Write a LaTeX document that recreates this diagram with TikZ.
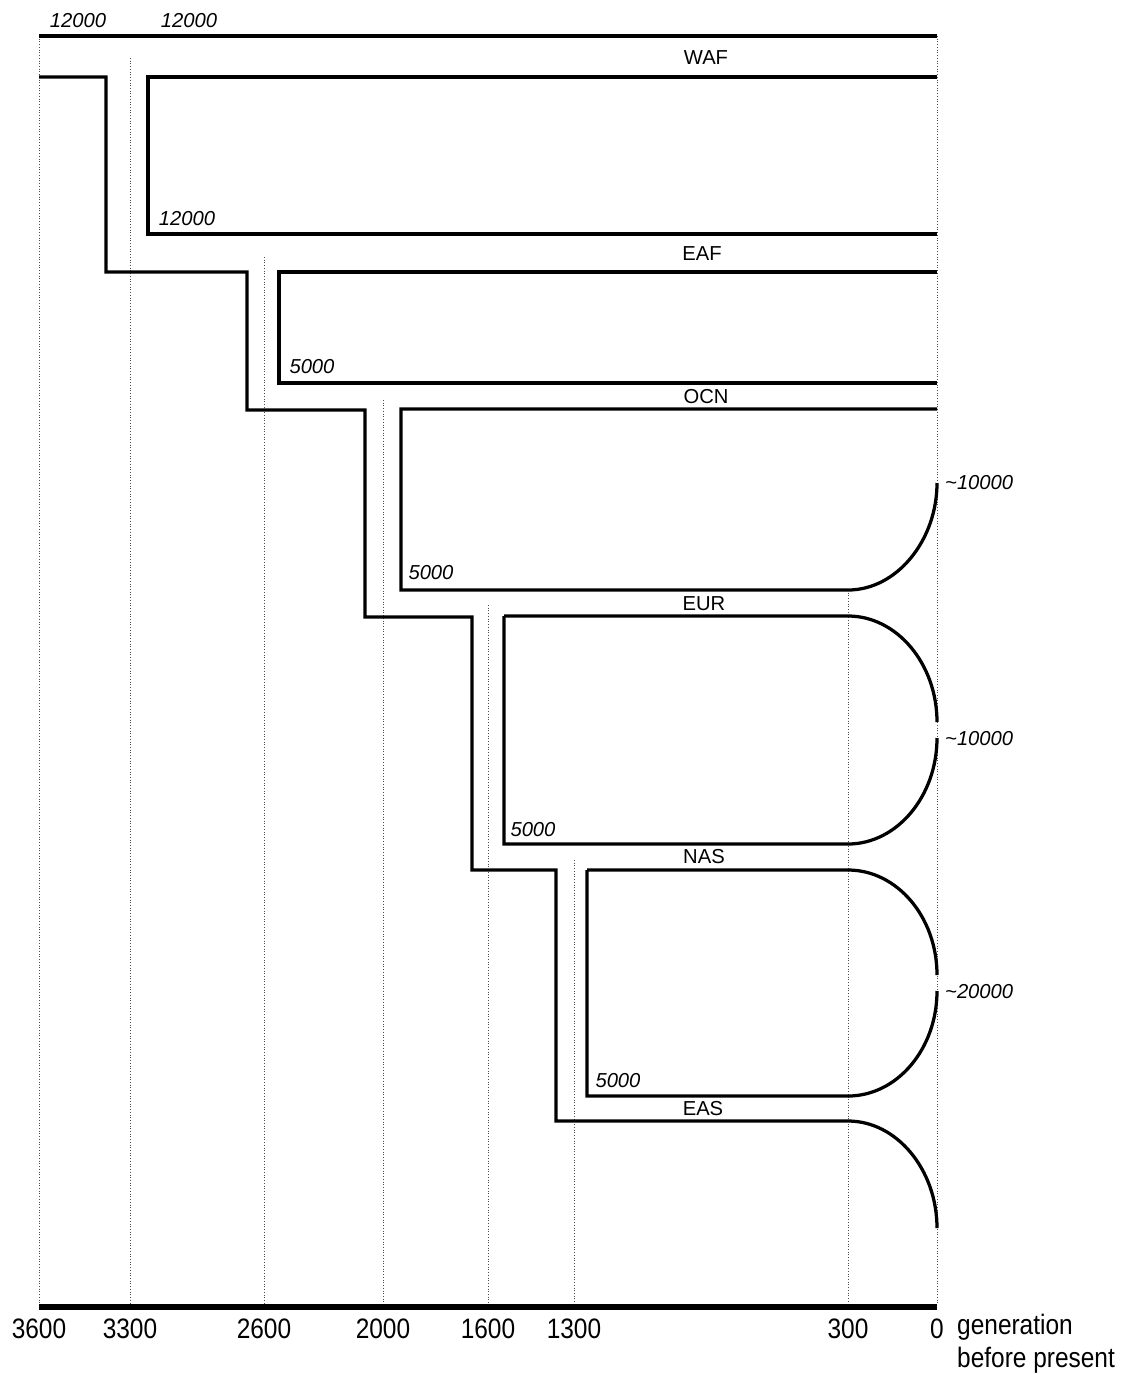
\documentclass[tikz,border=0pt]{standalone}
\usepackage{fontspec}
\setmainfont{Liberation Sans}
\newfontfamily\axisfont[FakeStretch=0.87]{Liberation Sans}
\begin{document}
\begin{tikzpicture}[x=0.02cm,y=-0.02cm]
\tikzset{
  popline/.style={line width=1.85pt,line join=miter},
  timeline/.style={densely dotted,gray!60!black,line width=0.55pt},
  popname/.style={font=\fontsize{11.5}{13}\selectfont},
  popsize/.style={font=\fontsize{11.5}{13}\selectfont\itshape},
  ticklabel/.style={font=\axisfont\fontsize{16}{19}\selectfont}
}
\useasboundingbox (0,0) rectangle (1123,1374);
\foreach \x/\y in {39/36,130/58,264/257,383/400,488/605,574/860,848/590,937/36}
  \draw[timeline] (\x,\y) -- (\x,1305);
\coordinate (T0) at (937,1307);
\coordinate (T3600) at (39,1307);
\draw[line width=3pt] (T3600) -- (T0);
\foreach \x/\t in {39/3600,130/3300,264/2600,383/2000,488/1600,574/1300,848/300,937/0}
  \node[ticklabel] (tick\t) at (\x,1329) {\t};
\node[ticklabel,anchor=west,align=left] (gen) at (951,1344) {generation\\before present};
\draw[popline] (39,36) -- (937,36);
\node[popsize] (anc1) at (78,21) {12000};
\node[popsize] (anc2) at (189,21) {12000};
\draw[popline] (39,77) -- (106,77) -- (106,272) -- (247,272) -- (247,410) -- (365,410)
  -- (365,617) -- (472,617) -- (472,870) -- (556,870) -- (556,1121) -- (848,1121)
  .. controls (897,1121) and (937,1170) .. (937,1228);
\draw[popline] (937,77) -- (148,77) -- (148,234) -- (937,234);
\node[popname] (waf) at (706,58) {WAF};
\node[popsize] (wafN) at (187,219) {12000};
\draw[popline] (937,272) -- (279,272) -- (279,383) -- (937,383);
\node[popname] (eaf) at (702,254) {EAF};
\node[popsize] (eafN) at (312,367) {5000};
\draw[popline] (937,409) -- (401,409) -- (401,590) -- (848,590)
  .. controls (897,590) and (937,540) .. (937,483);
\node[popname] (ocn) at (706,397) {OCN};
\node[popsize] (ocnN) at (431,573) {5000};
\node[popsize,anchor=west] (ocnG) at (939,483) {\textasciitilde10000};
\draw[popline] (504,616) -- (848,616) .. controls (897,616) and (937,664) .. (937,722);
\draw[popline] (504,616) -- (504,844) -- (848,844) .. controls (897,844) and (937,796) .. (937,738);
\node[popname] (eur) at (704,604) {EUR};
\node[popsize] (eurN) at (533,830) {5000};
\node[popsize,anchor=west] (eurG) at (939,739) {\textasciitilde10000};
\draw[popline] (587,870) -- (848,870) .. controls (897,870) and (937,917) .. (937,975);
\draw[popline] (587,870) -- (587,1096) -- (848,1096) .. controls (897,1096) and (937,1049) .. (937,991);
\node[popname] (nas) at (704,857) {NAS};
\node[popsize] (nasN) at (618,1081) {5000};
\node[popsize,anchor=west] (nasG) at (939,992) {\textasciitilde20000};
\node[popname] (eas) at (703,1109) {EAS};
\end{tikzpicture}
\end{document}
